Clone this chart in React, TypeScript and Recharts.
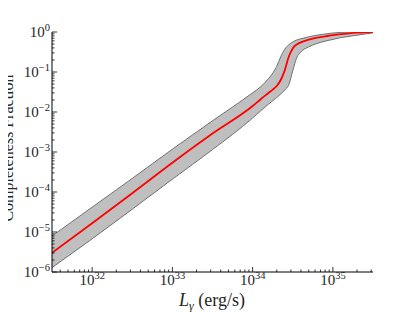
import { ComposedChart, Area, Line, XAxis, YAxis } from "recharts";

// log10 of luminance (erg/s) at the sampled points
const logL = [
  31.5, 32, 32.5, 33, 33.5, 34, 34.1, 34.2, 34.25, 34.3, 34.35, 34.4, 34.45,
  34.5, 34.55, 34.6, 34.7, 34.8, 34.9, 35.0, 35.1, 35.2, 35.3, 35.4, 35.5,
];
// log10 of completeness fraction: median, band top, band bottom
const logMedian = [
  -5.52, -4.78, -4.03, -3.27, -2.54, -1.85, -1.68, -1.52, -1.44, -1.35, -1.2,
  -0.96, -0.62, -0.41, -0.31, -0.26, -0.19, -0.14, -0.11, -0.08, -0.055, -0.035,
  -0.018, -0.006, 0,
];
const logUpper = [
  -5.1, -4.38, -3.66, -2.93, -2.22, -1.52, -1.37, -1.16, -1.03, -0.86, -0.62,
  -0.43, -0.32, -0.25, -0.2, -0.17, -0.12, -0.08, -0.05, -0.025, -0.01, -0.003,
  0, 0, 0,
];
const logLower = [
  -5.89, -5.17, -4.43, -3.68, -2.94, -2.15, -1.97, -1.8, -1.72, -1.64, -1.55,
  -1.45, -1.32, -0.97, -0.64, -0.5, -0.37, -0.29, -0.23, -0.185, -0.14, -0.11,
  -0.08, -0.05, -0.02,
];

const xDomain = [10 ** 31.5, 10 ** 35.5];
const yDomain = [1e-6, 1];
const xDecades = [31, 32, 33, 34, 35];
const yDecades = [-6, -5, -4, -3, -2, -1, 0];

const data = logL.map((l, i) => ({
  L: 10 ** l,
  median: 10 ** logMedian[i],
  band: [10 ** logLower[i], 10 ** logUpper[i]],
}));

const logTicks = (decades: number[], lo: number, hi: number) => {
  const out: number[] = [];
  decades.forEach((d) => {
    for (let m = 1; m <= 9; m++) {
      const v = m * 10 ** d;
      if (v >= lo * 0.999 && v <= hi * 1.001) out.push(v);
    }
  });
  return out;
};
const xTicks = logTicks(xDecades, xDomain[0], xDomain[1]);
const yTicks = logTicks(yDecades, yDomain[0], yDomain[1]);

const FONT = "'Liberation Serif', 'DejaVu Serif', serif";
const INK = "#262626";

const isMajor = (v: number) => {
  const lg = Math.log10(v);
  return Math.abs(lg - Math.round(lg)) < 1e-6;
};
const expText = (v: number) => {
  const e = Math.round(Math.log10(v));
  return e < 0 ? "\u2212" + Math.abs(e) : String(e);
};

function XTick({ x, y, payload, top }: any) {
  const v = payload.value;
  const major = isMajor(v);
  const len = major ? 5 : 2.5;
  return (
    <g>
      <line x1={x} x2={x} y1={y} y2={top ? y + len : y - len} stroke="#000" strokeWidth={0.8} />
      {major && !top && (
        <text x={x} y={y + 13} textAnchor="middle" fontFamily={FONT} fontSize={15} fill={INK}>
          10
          <tspan dy={-6.5} fontSize={10.5}>{expText(v)}</tspan>
        </text>
      )}
    </g>
  );
}

function YTick({ x, y, payload, right }: any) {
  const v = payload.value;
  const major = isMajor(v);
  const len = major ? 5 : 2.5;
  return (
    <g>
      <line x1={x} x2={right ? x - len : x + len} y1={y} y2={y} stroke="#000" strokeWidth={0.8} />
      {major && !right && (
        <text x={x - 2} y={y + 5} textAnchor="end" fontFamily={FONT} fontSize={15} fill={INK}>
          10
          <tspan dy={-6.5} fontSize={10.5}>{expText(v)}</tspan>
        </text>
      )}
    </g>
  );
}

export default function App() {
  return (
    <div style={{ position: "relative", width: 407, height: 304 }}>
      <ComposedChart
        width={407}
        height={304}
        data={data}
        margin={{ top: 24, right: 42, bottom: 0, left: 0 }}
      >
        <XAxis
          xAxisId="b"
          dataKey="L"
          type="number"
          scale="log"
          domain={xDomain}
          allowDataOverflow
          ticks={xTicks}
          interval={0}
          height={40}
          tickSize={0}
          tickMargin={0}
          tickLine={false}
          axisLine={{ stroke: "#000" }}
          tick={(p: any) => <XTick {...p} />}
        />
        <XAxis
          xAxisId="t"
          orientation="top"
          dataKey="L"
          type="number"
          scale="log"
          domain={xDomain}
          allowDataOverflow
          ticks={xTicks}
          interval={0}
          height={0}
          tickSize={0}
          tickMargin={0}
          tickLine={false}
          axisLine={{ stroke: "#000" }}
          tick={(p: any) => <XTick {...p} top />}
        />
        <YAxis
          yAxisId="l"
          type="number"
          scale="log"
          domain={yDomain}
          allowDataOverflow
          ticks={yTicks}
          interval={0}
          width={44}
          tickSize={0}
          tickMargin={0}
          tickLine={false}
          axisLine={{ stroke: "#000" }}
          tick={(p: any) => <YTick {...p} />}
        />
        <YAxis
          yAxisId="r"
          orientation="right"
          type="number"
          scale="log"
          domain={yDomain}
          allowDataOverflow
          ticks={yTicks}
          interval={0}
          width={0}
          tickSize={0}
          tickMargin={0}
          tickLine={false}
          axisLine={{ stroke: "#000" }}
          tick={(p: any) => <YTick {...p} right />}
        />
        <Area
          xAxisId="b"
          yAxisId="l"
          dataKey="band"
          type="monotone"
          fill="#bfbfbf"
          fillOpacity={1}
          stroke="#707070"
          strokeWidth={1}
          isAnimationActive={false}
        />
        <Line
          xAxisId="b"
          yAxisId="l"
          dataKey="median"
          type="monotone"
          stroke="#ff0000"
          strokeWidth={1.8}
          dot={false}
          isAnimationActive={false}
        />
      </ComposedChart>
      {/* axis titles, in page coordinates (wrapper sits at the 8px body margin) */}
      <svg
        width={415}
        height={312}
        style={{ position: "absolute", left: -8, top: -8, pointerEvents: "none" }}
      >
        <text
          transform="translate(13,148) rotate(-90)"
          textAnchor="middle"
          fontFamily={FONT}
          fontSize={16}
          fill={INK}
        >
          Completeness Fraction
        </text>
        <text x={212} y={306} textAnchor="middle" fontFamily={FONT} fontSize={18} fill={INK}>
          <tspan fontStyle="italic">L</tspan>
          <tspan fontStyle="italic" fontSize={12} dy={4}>γ</tspan>
          <tspan dy={-4}> (erg/s)</tspan>
        </text>
      </svg>
    </div>
  );
}
